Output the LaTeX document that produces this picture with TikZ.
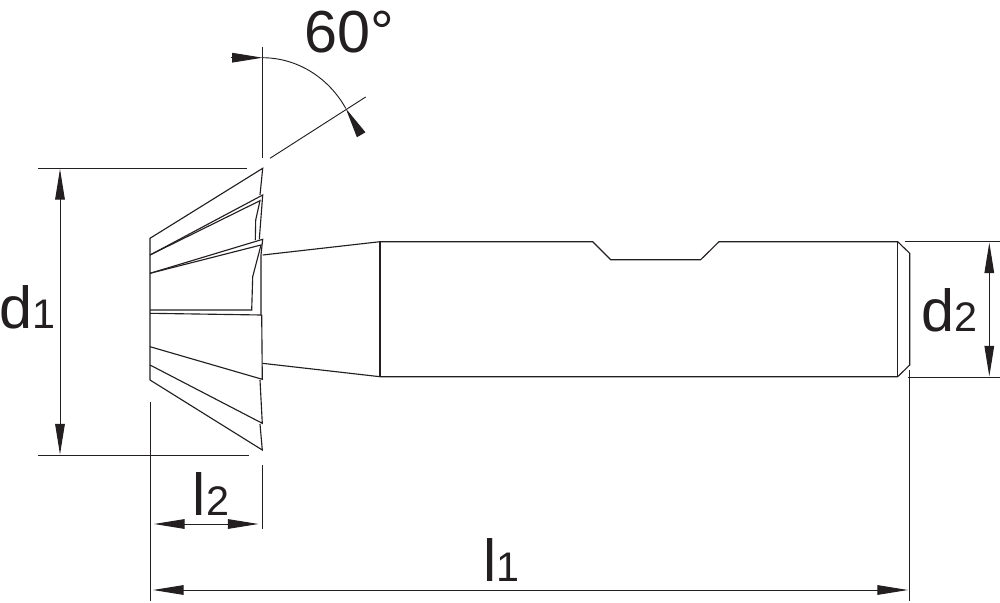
\documentclass[tikz,border=0pt]{standalone}
\usepackage{fontspec}
\setmainfont{Liberation Sans}
\usetikzlibrary{arrows.meta}
\definecolor{myink}{RGB}{35,31,32}
\newcommand{\dimsub}[1]{{\fontsize{31}{31}\selectfont #1}}

\begin{document}
\begin{tikzpicture}[
    x=0.75pt,y=-0.75pt,
    body/.style={draw=myink,line width=0.85pt,line join=miter},
    extline/.style={draw=myink,line width=0.7pt},
    dimline/.style={draw=myink,line width=0.75pt,{Triangle[length=23pt,width=7.2pt]}-{Triangle[length=23pt,width=7.2pt]}},
    oneway/.style={draw=myink,line width=0.75pt,-{Triangle[length=23pt,width=7.2pt]}},
    dimlabel/.style={text=myink,inner sep=0pt,anchor=base,font=\fontsize{44.5}{44.5}\selectfont}
]
    \useasboundingbox (0,0) rectangle (1000,603);

    % Cutter head, upper teeth
    \draw[body] (150,380) -- (150,238.3) -- (262.7,168.3) -- (260,195);
    \draw[body] (150,255) -- (262.7,195) -- (259.3,239.3);
    \draw[body] (150,255) -- (260,200.7) -- (255.7,220) -- (255.3,240);
    \draw[body] (150,273.3) -- (262.7,239.3) -- (261,255) -- (261,315);
    \draw[body] (150,273.3) -- (261,245) -- (252.7,276.7) -- (251.7,310) -- (150,310);
    \draw[body] (150,313.3) -- (261.7,315);

    % Cutter head, lower teeth
    \draw[body] (261.7,315) -- (262.3,379.3) -- (150,346.7);
    \draw[body] (260,380) -- (262.3,423.3) -- (150,365);
    \draw[body] (260,424) -- (262.3,450) -- (150,380);

    % Neck and shank with the flat
    \draw[body] (262.7,255) -- (380,241.7) -- (592.7,241.7) -- (610.7,259.7) -- (700.7,259.7)
        -- (719,241.7) -- (897.7,241.7) -- (909.7,253.3) -- (909.7,365) -- (897.7,376.7)
        -- (380,376.7) -- (262.3,363.3);
    \draw[body] (380,241.7) -- (380,376.7);
    \draw[body] (897.7,241.7) -- (897.7,376.7);

    % Angle
    \coordinate (angleA) at (262.7,57.7);
    \coordinate (angleB) at (345.7,108.3);
    \coordinate (tailA) at (230.5,57.7);
    \coordinate (tailB) at (361,134.5);
    \draw[extline] (262.7,46.7) -- (262.7,158);
    \draw[extline] (270,158.3) -- (365.7,97);
    \draw[extline] (angleA) .. controls (300,58) and (330,80) .. (angleB);
    \draw[oneway] (tailA) -- (angleA);
    \draw[oneway] (tailB) -- (angleB);
    \node[dimlabel] (angle) at (349.5,52) {60°};

    % d1
    \coordinate (dOneTop) at (60,169);
    \coordinate (dOneBot) at (60,454.5);
    \draw[extline] (38,168.3) -- (246.7,168.3);
    \draw[extline] (38,455.3) -- (249,455.3);
    \draw[dimline] (dOneTop) -- (dOneBot);
    \node[dimlabel] (dOne) at (27.5,328) {d\dimsub{1}};

    % d2
    \coordinate (dTwoTop) at (989.3,242.5);
    \coordinate (dTwoBot) at (989.3,376.5);
    \draw[extline] (904.7,241.7) -- (1000,241.7);
    \draw[extline] (908,377.7) -- (1000,377.7);
    \draw[dimline] (dTwoTop) -- (dTwoBot);
    \node[dimlabel] (dTwo) at (949.5,331.7) {d\dimsub{2}};

    % l2
    \coordinate (lTwoL) at (154,524);
    \coordinate (lTwoR) at (258.5,524);
    \draw[extline] (150,401.7) -- (150,601);
    \draw[extline] (262.3,465) -- (262.3,529);
    \draw[dimline] (lTwoL) -- (lTwoR);
    \node[dimlabel] (lTwo) at (211,515) {l\dimsub{2}};

    % l1
    \coordinate (lOneL) at (153,590);
    \coordinate (lOneR) at (908,590);
    \draw[extline] (909.7,370) -- (909.7,601);
    \draw[dimline] (lOneL) -- (lOneR);
    \node[dimlabel] (lOne) at (501.5,581.5) {l\dimsub{1}};
\end{tikzpicture}
\end{document}
